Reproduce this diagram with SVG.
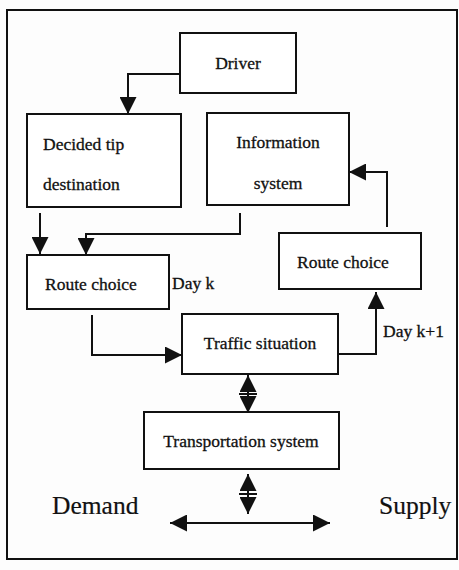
<svg xmlns="http://www.w3.org/2000/svg" width="459" height="570" viewBox="0 0 459 570">
<style>
.box{fill:#fff;stroke:#111;stroke-width:2}
.t{font-family:"Liberation Serif","Times New Roman",serif;font-size:17.5px;fill:#111;stroke:#111;stroke-width:0.3}
.big{font-size:25.5px;stroke-width:0.2}
.c{stroke:#111;stroke-width:2;fill:none}
</style>
<defs>
<marker id="ah" viewBox="0 0 17 17" refX="17" refY="8.5" markerWidth="17" markerHeight="17" markerUnits="userSpaceOnUse" orient="auto-start-reverse">
<path d="M0,0 L17,8.5 L0,17 Z" fill="#111"/>
</marker>
</defs>
<rect x="0" y="0" width="459" height="570" fill="#fdfdfd"/>
<rect x="7" y="10" width="450" height="549" fill="none" stroke="#111" stroke-width="2"/>
<g id="driver"><rect class="box" x="180" y="33" width="116" height="60"/><text class="t" x="238" y="69" text-anchor="middle">Driver</text></g>
<g id="decided"><rect class="box" x="27" y="114" width="154" height="93"/><text class="t" x="43" y="150">Decided tip</text><text class="t" x="43" y="190">destination</text></g>
<g id="info"><rect class="box" x="207" y="113" width="142" height="92"/><text class="t" x="278" y="148" text-anchor="middle">Information</text><text class="t" x="278" y="189" text-anchor="middle">system</text></g>
<g id="route-k"><rect class="box" x="27" y="255" width="142" height="54"/><text class="t" x="45" y="290">Route choice</text></g>
<g id="route-k1"><rect class="box" x="279" y="233" width="142" height="56"/><text class="t" x="297" y="268">Route choice</text></g>
<g id="traffic"><rect class="box" x="182" y="314" width="156" height="60"/><text class="t" x="260" y="349" text-anchor="middle">Traffic situation</text></g>
<g id="transport"><rect class="box" x="144" y="412" width="195" height="57"/><text class="t" x="241" y="447" text-anchor="middle">Transportation system</text></g>
<g id="labels">
<text class="t" x="172" y="289">Day k</text>
<text class="t" x="383" y="337">Day k+1</text>
<text class="t big" x="52" y="514">Demand</text>
<text class="t big" x="379" y="514">Supply</text>
</g>
<g id="connectors">
<path class="c" d="M180,74 H128 V114" marker-end="url(#ah)"/>
<path class="c" d="M40,213 V254" marker-end="url(#ah)"/>
<path class="c" d="M240,213 V234 H86 V255" marker-end="url(#ah)"/>
<path class="c" d="M387,227 V172 H349" marker-end="url(#ah)"/>
<path class="c" d="M92,315 V355 H182" marker-end="url(#ah)"/>
<path class="c" d="M338,354 H376 V292" marker-end="url(#ah)"/>
<path class="c" d="M248,375 V413" marker-start="url(#ah)" marker-end="url(#ah)"/>
<path class="c" d="M239,394 H257"/>
<path class="c" d="M248,474 V514" marker-start="url(#ah)" marker-end="url(#ah)"/>
<path class="c" d="M239,494 H257"/>
<path class="c" d="M170,523 H330" marker-start="url(#ah)" marker-end="url(#ah)"/>
</g>
</svg>
